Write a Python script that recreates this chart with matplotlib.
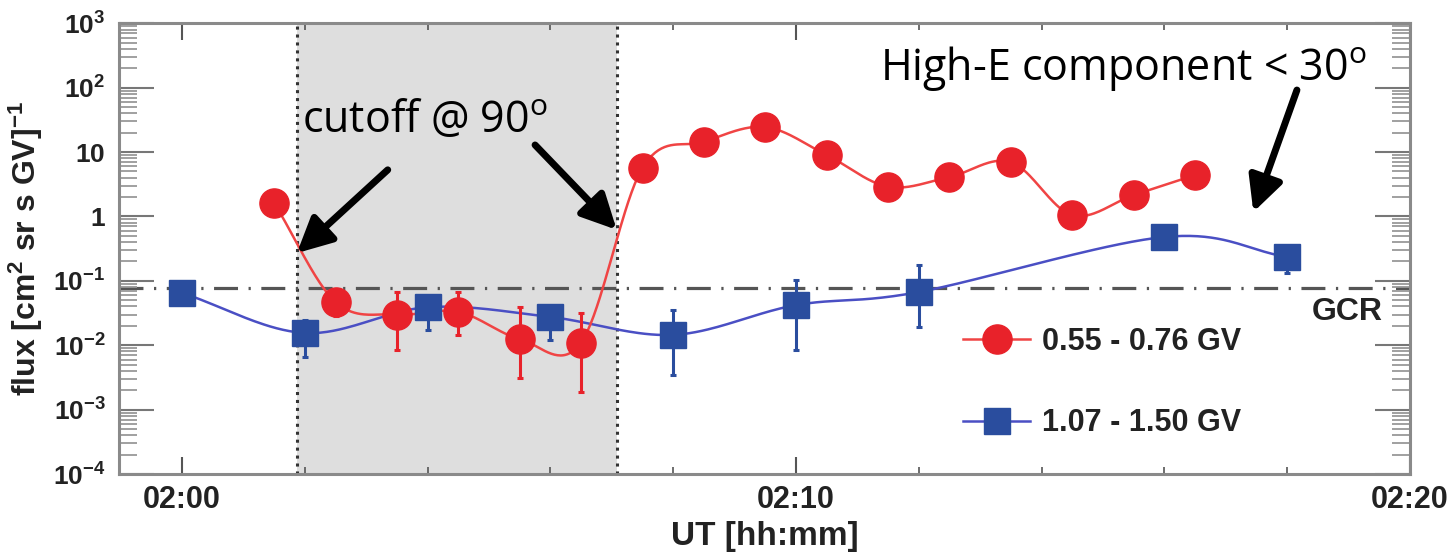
import numpy as np
import matplotlib
matplotlib.use("Agg")
import matplotlib.pyplot as plt
from matplotlib.ticker import FixedLocator, FuncFormatter, LogLocator, NullFormatter
from matplotlib.lines import Line2D

plt.rcParams["font.family"] = ["Liberation Sans", "DejaVu Sans"]
plt.rcParams["mathtext.fontset"] = "custom"
plt.rcParams["mathtext.bf"] = "Liberation Sans:bold"
plt.rcParams["mathtext.rm"] = "Open Sans"
plt.rcParams["mathtext.default"] = "bf"

# time in minutes after 02:00 UT
t_low = [1.5, 2.5, 3.5, 4.5, 5.5, 6.5, 7.5, 8.5, 9.5, 10.5, 11.5, 12.5, 13.5, 14.5, 15.5, 16.5]
flux_low = [1.62, 0.047, 0.030, 0.033, 0.0125, 0.0110, 5.7, 14.4, 24.5, 9.0, 2.9, 4.1, 7.0, 1.05, 2.15, 4.4]
err_lo_low = [np.nan, 0.028, 0.0085, 0.0145, 0.0031, 0.0019] + [np.nan] * 10
err_hi_low = [np.nan, 0.070, 0.068, 0.068, 0.039, 0.032] + [np.nan] * 10

t_high = [0, 2, 4, 6, 8, 10, 12, 16, 18]
flux_high = [0.065, 0.0155, 0.039, 0.0275, 0.0145, 0.042, 0.067, 0.48, 0.235]
err_lo_high = [np.nan, 0.0066, 0.0173, 0.0121, 0.0035, 0.0085, 0.019, np.nan, 0.133]
err_hi_high = [np.nan, 0.0245, 0.050, 0.040, 0.0355, 0.103, 0.177, np.nan, 0.30]

gcr_level = 0.078
cutoff_window = (1.87, 7.08)

label_low = "0.55 - 0.76 GV"
label_high = "1.07 - 1.50 GV"

red_line, red_mark = "#f04444", "#e8222a"
blue_line, blue_mark = "#4a4fc4", "#2a4d9e"


def catmull_rom(xs, ys, n=40):
    pts = np.column_stack([xs, ys]).astype(float)
    pts = np.vstack([2 * pts[0] - pts[1], pts, 2 * pts[-1] - pts[-2]])
    s = np.linspace(0, 1, n)[:, None]
    segs = []
    for i in range(1, len(pts) - 2):
        p0, p1, p2, p3 = pts[i - 1], pts[i], pts[i + 1], pts[i + 2]
        segs.append(0.5 * (2 * p1 + (-p0 + p2) * s
                           + (2 * p0 - 5 * p1 + 4 * p2 - p3) * s ** 2
                           + (-p0 + 3 * p1 - 3 * p2 + p3) * s ** 3))
    c = np.vstack(segs)
    return c[:, 0], c[:, 1]


fig = plt.figure(figsize=(14.55, 5.54), dpi=100)
ax = fig.add_axes([0.0821, 0.1444, 0.8869, 0.8135])
ax.set_yscale("log")
ax.set_xlim(-1.02, 20)
ax.set_ylim(1e-4, 1e3)

# cutoff window
ax.axvspan(*cutoff_window, color="#dedede", zorder=0, lw=0)
for xv in cutoff_window:
    ax.axvline(xv, color="#333333", lw=2.2, ls=(0, (1, 1.6)), zorder=1)

# galactic cosmic ray level
ax.axhline(gcr_level, color="#555555", lw=2.3, ls=(0, (7.5, 3.3, 0.7, 3.3)), zorder=1)
ax.text(0.979, 0.033, "GCR", transform=ax.get_yaxis_transform(), ha="right", va="center",
        fontsize=23, fontweight="bold", color="#222222")

# smooth curves through the points
for t, f, col in [(t_high, flux_high, blue_line), (t_low, flux_low, red_line)]:
    cx, cy = catmull_rom(t, np.log10(f))
    ax.plot(cx, 10 ** cy, color=col, lw=1.8, zorder=2)

# error bars
for t, f, lo, hi, col in [(t_low, flux_low, err_lo_low, err_hi_low, red_mark),
                          (t_high, flux_high, err_lo_high, err_hi_high, blue_mark)]:
    t = np.asarray(t); f = np.asarray(f); lo = np.asarray(lo); hi = np.asarray(hi)
    m = np.isfinite(lo)
    ax.errorbar(t[m], f[m], yerr=[f[m] - lo[m], hi[m] - f[m]], fmt="none",
                ecolor=col, elinewidth=2.2, capsize=2, capthick=2.2, zorder=3)

ax.plot(t_low, flux_low, "o", color=red_mark, ms=21, mec=red_mark, zorder=4)
ax.plot(t_high, flux_high, "s", color=blue_mark, ms=19, mec=blue_mark, zorder=5)

# legend
handles = [Line2D([], [], color=red_line, lw=1.8, marker="o", ms=21, mfc=red_mark, mec=red_mark),
           Line2D([], [], color=blue_line, lw=1.8, marker="s", ms=19, mfc=blue_mark, mec=blue_mark)]
leg = fig.legend(handles, [label_low, label_high], loc="center left",
                 bbox_to_anchor=(963 / 1455, 1 - 382.5 / 554), bbox_transform=fig.transFigure,
                 frameon=False, borderpad=0, borderaxespad=0, handlelength=2.2,
                 handletextpad=0.4, labelspacing=1.7,
                 prop={"family": "Liberation Sans", "weight": "bold", "size": 22})
for txt in leg.get_texts():
    txt.set_color("#222222")

# annotations
note_font = {"family": "Open Sans", "size": 31, "color": "black"}
ax.text(1.96, 20.5, r"cutoff @ 90$^{\mathrm{o}}$", ha="left", va="baseline", **note_font, zorder=6)
ax.text(11.37, 132, r"High-E component < 30$^{\mathrm{o}}$", ha="left", va="baseline", **note_font, zorder=6)
arrow_kw = dict(arrowstyle="-|>,head_length=2.1,head_width=1.05", color="black", lw=5,
                shrinkA=0, shrinkB=0)
ax.annotate("", xy=(1.87, 0.27), xytext=(3.35, 5.3), arrowprops=arrow_kw, zorder=6)
ax.annotate("", xy=(7.08, 0.62), xytext=(5.75, 12.9), arrowprops=arrow_kw, zorder=6)
ax.annotate("", xy=(17.45, 1.17), xytext=(18.16, 92), arrowprops=arrow_kw, zorder=6)

# axes styling
spine_col = "#8a8a8a"
for sp in ax.spines.values():
    sp.set_color(spine_col)
    sp.set_linewidth(2.2)

ax.xaxis.set_major_locator(FixedLocator([0, 10, 20]))
ax.xaxis.set_minor_locator(FixedLocator([2, 4, 6, 8, 12, 14, 16, 18]))
ax.xaxis.set_major_formatter(FuncFormatter(lambda v, p: "02:%02d" % int(round(v))))
ax.yaxis.set_major_locator(LogLocator(base=10, numticks=20))
ax.yaxis.set_minor_locator(LogLocator(base=10, subs=np.arange(2, 10), numticks=20))
ax.yaxis.set_minor_formatter(NullFormatter())


def ylab(v, p):
    e = int(round(np.log10(v)))
    if e == 0:
        return r"$\mathbf{1}$"
    if e == 1:
        return r"$\mathbf{10}$"
    return r"$\mathbf{10^{%d}}$" % e


ax.yaxis.set_major_formatter(FuncFormatter(ylab))
ax.tick_params(axis="x", which="major", direction="in", length=12, width=1.5, color="#555555",
               top=True, labelsize=22, pad=8, labelcolor="#222222")
ax.tick_params(axis="x", which="minor", direction="in", length=5, width=1.2, color="#555555", top=True)
ax.tick_params(axis="y", which="major", direction="in", length=25, width=1.5, color="#777777",
               right=True, labelsize=19, pad=10, labelcolor="#222222")
ax.tick_params(axis="y", which="minor", direction="in", length=13, width=1.3, color="#999999", right=True)
for lab in ax.get_xticklabels():
    lab.set_fontweight("bold")

ax.set_xlabel("UT [hh:mm]", fontsize=24, fontweight="bold", color="#222222", labelpad=4)
ax.set_ylabel(r"flux [cm$^{2}$ sr s GV]$^{-1}$", fontsize=23, fontweight="bold",
              color="#222222", labelpad=6)

fig.savefig("out.png", dpi=100)
